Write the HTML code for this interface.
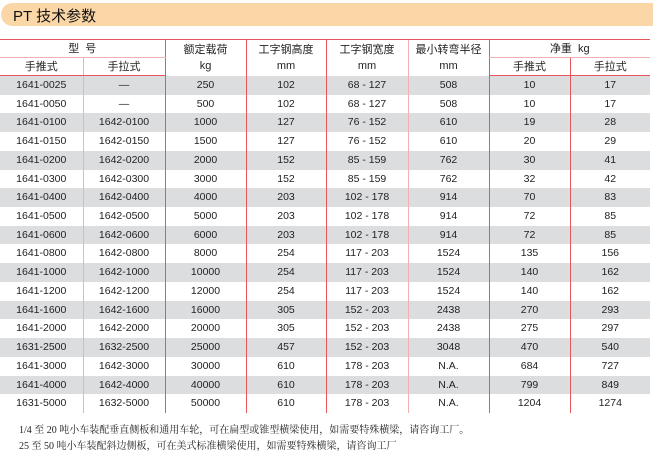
<!DOCTYPE html>
<html><head><meta charset="utf-8"><style>
body{margin:0;width:653px;height:452px;background:#fff;position:relative;overflow:hidden;font-family:"Liberation Sans","Noto Sans CJK SC",sans-serif;color:#222}
.banner{position:absolute;left:1px;top:3px;width:652px;height:23px;background:#fbd6a6;border-radius:12px 0 0 12px}
.banner span{position:absolute;left:12px;top:2px;font-size:15px;color:#111}
table{position:absolute;left:0;top:39px;border-collapse:collapse;table-layout:fixed;width:650px}
td{padding:0;text-align:center;font-size:10.5px;height:18.72px;line-height:18.72px;border-left:1px solid #e8555a;white-space:nowrap}
td.f{border-left:none}
td.l{border-left:1px solid #f2b0b0}
tr.h td{font-size:11px;height:17px;line-height:16px}
tr.g td{background:#dcdddf}
.t{border-top:1px solid #e8555a}
.b{border-bottom:1px solid #e8555a}
.n{position:absolute;left:19px;font-family:"Liberation Serif","Noto Serif CJK SC",serif;font-size:10px;color:#222}
</style></head><body>
<div class="banner"><span>PT 技术参数</span></div>
<table>
<colgroup><col style="width:83px"><col style="width:82px"><col style="width:81px"><col style="width:80px"><col style="width:82px"><col style="width:81px"><col style="width:81px"><col style="width:80px"></colgroup>
<tr class="h"><td class="f t b" colspan="2" style="border-bottom-color:#f2b0b0">型&nbsp;&nbsp;号</td><td class="t" rowspan="2" style="vertical-align:top;line-height:16px;padding-top:2px">额定载荷<br>kg</td><td class="t" rowspan="2" style="vertical-align:top;line-height:16px;padding-top:2px">工字钢高度<br>mm</td><td class="t" rowspan="2" style="vertical-align:top;line-height:16px;padding-top:2px">工字钢宽度<br>mm</td><td class="t l" rowspan="2" style="vertical-align:top;line-height:16px;padding-top:2px">最小转弯半径<br>mm</td><td class="t" colspan="2" style="border-bottom:1px solid #f2b0b0">净重&nbsp;&nbsp;kg</td></tr>
<tr class="h"><td class="f b">手推式</td><td class="l b">手拉式</td><td class="b">手推式</td><td class="b">手拉式</td></tr>
<tr class="g"><td class="f">1641-0025</td><td class="l">—</td><td>250</td><td>102</td><td>68 - 127</td><td class="l">508</td><td>10</td><td>17</td></tr>
<tr><td class="f">1641-0050</td><td class="l">—</td><td>500</td><td>102</td><td>68 - 127</td><td class="l">508</td><td>10</td><td>17</td></tr>
<tr class="g"><td class="f">1641-0100</td><td class="l">1642-0100</td><td>1000</td><td>127</td><td>76 - 152</td><td class="l">610</td><td>19</td><td>28</td></tr>
<tr><td class="f">1641-0150</td><td class="l">1642-0150</td><td>1500</td><td>127</td><td>76 - 152</td><td class="l">610</td><td>20</td><td>29</td></tr>
<tr class="g"><td class="f">1641-0200</td><td class="l">1642-0200</td><td>2000</td><td>152</td><td>85 - 159</td><td class="l">762</td><td>30</td><td>41</td></tr>
<tr><td class="f">1641-0300</td><td class="l">1642-0300</td><td>3000</td><td>152</td><td>85 - 159</td><td class="l">762</td><td>32</td><td>42</td></tr>
<tr class="g"><td class="f">1641-0400</td><td class="l">1642-0400</td><td>4000</td><td>203</td><td>102 - 178</td><td class="l">914</td><td>70</td><td>83</td></tr>
<tr><td class="f">1641-0500</td><td class="l">1642-0500</td><td>5000</td><td>203</td><td>102 - 178</td><td class="l">914</td><td>72</td><td>85</td></tr>
<tr class="g"><td class="f">1641-0600</td><td class="l">1642-0600</td><td>6000</td><td>203</td><td>102 - 178</td><td class="l">914</td><td>72</td><td>85</td></tr>
<tr><td class="f">1641-0800</td><td class="l">1642-0800</td><td>8000</td><td>254</td><td>117 - 203</td><td class="l">1524</td><td>135</td><td>156</td></tr>
<tr class="g"><td class="f">1641-1000</td><td class="l">1642-1000</td><td>10000</td><td>254</td><td>117 - 203</td><td class="l">1524</td><td>140</td><td>162</td></tr>
<tr><td class="f">1641-1200</td><td class="l">1642-1200</td><td>12000</td><td>254</td><td>117 - 203</td><td class="l">1524</td><td>140</td><td>162</td></tr>
<tr class="g"><td class="f">1641-1600</td><td class="l">1642-1600</td><td>16000</td><td>305</td><td>152 - 203</td><td class="l">2438</td><td>270</td><td>293</td></tr>
<tr><td class="f">1641-2000</td><td class="l">1642-2000</td><td>20000</td><td>305</td><td>152 - 203</td><td class="l">2438</td><td>275</td><td>297</td></tr>
<tr class="g"><td class="f">1631-2500</td><td class="l">1632-2500</td><td>25000</td><td>457</td><td>152 - 203</td><td class="l">3048</td><td>470</td><td>540</td></tr>
<tr><td class="f">1641-3000</td><td class="l">1642-3000</td><td>30000</td><td>610</td><td>178 - 203</td><td class="l">N.A.</td><td>684</td><td>727</td></tr>
<tr class="g"><td class="f">1641-4000</td><td class="l">1642-4000</td><td>40000</td><td>610</td><td>178 - 203</td><td class="l">N.A.</td><td>799</td><td>849</td></tr>
<tr><td class="f">1631-5000</td><td class="l">1632-5000</td><td>50000</td><td>610</td><td>178 - 203</td><td class="l">N.A.</td><td>1204</td><td>1274</td></tr>
</table>
<div class="n" style="top:421px">1/4 至 20 吨小车装配垂直侧板和通用车轮，可在扁型或锥型横梁使用，如需要特殊横梁，请咨询工厂。</div>
<div class="n" style="top:437px">25 至 50 吨小车装配斜边侧板，可在美式标准横梁使用，如需要特殊横梁，请咨询工厂</div>
</body></html>
